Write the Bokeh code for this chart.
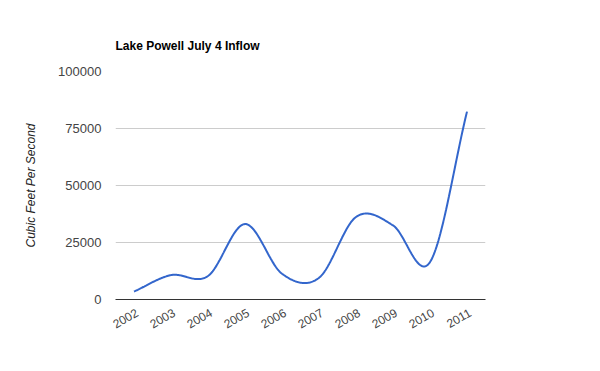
import numpy as np
from bokeh.plotting import figure
from bokeh.models import FixedTicker, Range1d, LinearAxis
from bokeh.embed import file_html
from bokeh.resources import INLINE

years = [2002, 2003, 2004, 2005, 2006, 2007, 2008, 2009, 2010, 2011]
year_labels = ["2002", "2003", "2004", "2005", "2006", "2007", "2008", "2009", "2010", "2011"]
inflow = [3500, 10700, 10300, 33100, 11300, 9500, 36200, 32500, 16400, 82400]
y_ticks = [0, 25000, 50000, 75000, 100000]


def smooth(xs, ys, k=0.5, n=40):
    xs = np.asarray(xs, float)
    ys = np.asarray(ys, float)
    m = np.zeros_like(ys)
    m[1:-1] = k * (ys[2:] - ys[:-2])
    m[0] = 2 * k * (ys[1] - ys[0])
    m[-1] = 2 * k * (ys[-1] - ys[-2])
    ox, oy = [], []
    for i in range(len(xs) - 1):
        t = np.linspace(0, 1, n, endpoint=(i == len(xs) - 2))
        h00 = 2 * t**3 - 3 * t**2 + 1
        h10 = t**3 - 2 * t**2 + t
        h01 = -2 * t**3 + 3 * t**2
        h11 = t**3 - t**2
        ox.extend(xs[i] + t * (xs[i + 1] - xs[i]))
        oy.extend(h00 * ys[i] + h10 * m[i] + h01 * ys[i + 1] + h11 * m[i + 1])
    return ox, oy


sx, sy = smooth(years, inflow)

x0, x1 = years[0] - 0.5, years[-1] + 0.5
shift = 0.08  # small horizontal nudge of the slanted labels (in years)

p = figure(width=585, height=355, output_backend="svg", toolbar_location=None,
           x_range=Range1d(x0, x1),
           y_range=Range1d(0, 100000),
           min_border_left=115, min_border_right=100,
           min_border_top=71, min_border_bottom=56)
p.extra_x_ranges = {"lab": Range1d(x0 - shift, x1 - shift)}

p.line(sx, sy, line_color="#3366cc", line_width=2)

p.title.text = "Lake Powell July 4 Inflow"
p.title.text_font = "Liberation Sans"
p.title.text_font_size = "12px"
p.title.text_font_style = "bold"
p.title.text_color = "#000000"
p.title.offset = 0
p.title.standoff = 38

p.outline_line_color = None
p.background_fill_color = "white"
p.border_fill_color = "white"

p.xgrid.grid_line_color = None
p.ygrid.grid_line_color = "#cccccc"
p.ygrid.grid_line_width = 1

p.yaxis.ticker = FixedTicker(ticks=y_ticks)
p.yaxis.major_label_overrides = {v: str(v) for v in y_ticks}
p.yaxis.axis_line_color = None
p.yaxis.major_tick_line_color = None
p.yaxis.minor_tick_line_color = None
p.yaxis.major_label_standoff = 8
p.yaxis.major_label_text_font = "Liberation Sans"
p.yaxis.major_label_text_font_size = "13px"
p.yaxis.major_label_text_color = "#444444"
p.yaxis.axis_label = "Cubic Feet Per Second"
p.yaxis.axis_label_text_font = "Liberation Sans"
p.yaxis.axis_label_text_font_size = "12px"
p.yaxis.axis_label_text_font_style = "italic"
p.yaxis.axis_label_text_color = "#222222"
p.yaxis.axis_label_standoff = 17

xa = p.xaxis[0]
xa.x_range_name = "lab"
xa.ticker = FixedTicker(ticks=years)
xa.major_label_overrides = {y: lab for y, lab in zip(years, year_labels)}
xa.axis_line_color = "#333333"
xa.axis_line_width = 1
xa.major_tick_line_color = None
xa.minor_tick_line_color = None
xa.major_label_orientation = 0.52
xa.major_label_standoff = 6
xa.major_label_text_font = "Liberation Sans"
xa.major_label_text_font_size = "12px"
xa.major_label_text_color = "#444444"

open("out.html", "w").write(file_html(p, INLINE))
